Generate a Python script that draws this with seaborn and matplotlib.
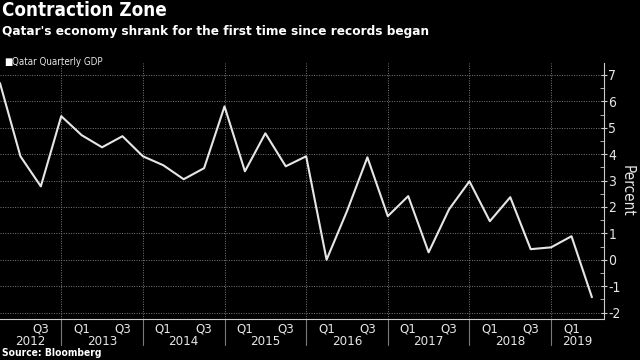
import matplotlib
matplotlib.use("Agg")
import matplotlib.pyplot as plt
import numpy as np
import pandas as pd
import seaborn as sns

# data: Qatar quarterly GDP, Q1 2012 .. Q2 2019 (percent)
quarters = [f"{y} Q{q}" for y in range(2012, 2020) for q in range(1, 5)][:30]
gdp = [6.69, 3.92, 2.78, 5.44, 4.72, 4.26, 4.68, 3.92, 3.58, 3.05,
       3.47, 5.81, 3.35, 4.79, 3.54, 3.92, 0.0, 1.84, 3.88, 1.65,
       2.41, 0.28, 1.91, 2.97, 1.46, 2.37, 0.40, 0.47, 0.89, -1.42]
years = list(range(2012, 2020))
y_ticks = list(range(-2, 8))

df = pd.DataFrame({"idx": np.arange(len(gdp)), "quarter": quarters, "gdp": gdp})

sns.set_style("dark")
plt.rcParams["font.family"] = ["DejaVu Sans"]
plt.rcParams["font.stretch"] = "condensed"

BG = "black"
FG = "#e6e6e6"
GRID = "#7a7a7a"

fig = plt.figure(figsize=(6.4, 3.6), dpi=100, facecolor=BG)
ax = fig.add_axes([0.0, 0.115, 0.944, 0.709], facecolor=BG)

sns.lineplot(data=df, x="idx", y="gdp", ax=ax, color=FG, linewidth=1.5)

ax.set_xlim(0, 29.6)
ax.set_ylim(-2.23, 7.44)

# grid
for v in y_ticks:
    ax.axhline(v, color=GRID, linestyle=(0, (1, 1.5)), linewidth=0.7, zorder=0)
sep = [i for i, q in enumerate(quarters) if q.endswith("Q4")]
for s in sep:
    ax.axvline(s, color=GRID, linestyle=(0, (1, 1.5)), linewidth=0.7, zorder=0)
    ax.plot([s, s], [0, -0.105], transform=ax.get_xaxis_transform(),
            color=GRID, linewidth=0.8, clip_on=False)

# spines
for side in ["left", "top"]:
    ax.spines[side].set_visible(False)
ax.spines["right"].set_color("#cccccc")
ax.spines["bottom"].set_color("#cccccc")
ax.spines["right"].set_linewidth(0.8)
ax.spines["bottom"].set_linewidth(0.8)

# y axis on the right
ax.yaxis.tick_right()
ax.yaxis.set_label_position("right")
ax.set_yticks(y_ticks)
ax.set_yticklabels([str(v) for v in y_ticks])
ax.set_yticks(np.arange(-1.5, 7.5, 1.0), minor=True)
ax.tick_params(axis="y", which="major", colors="#cccccc", labelcolor=FG,
               length=4, width=0.8, labelsize=10, pad=1, direction="inout")
ax.tick_params(axis="y", which="minor", colors="#cccccc", length=3, width=0.6,
               direction="in")

# x axis: Q1/Q3 labels
lab_idx = [i for i, q in enumerate(quarters) if q.endswith("Q1") or q.endswith("Q3")]
lab_idx = [i for i in lab_idx if i > 0]
ax.set_xticks(lab_idx)
ax.set_xticklabels([quarters[i][-2:] for i in lab_idx])
ax.set_xticks([i for i in range(len(quarters)) if i not in lab_idx and i not in sep],
              minor=True)
ax.tick_params(axis="x", which="major", colors="#cccccc", labelcolor=FG,
               length=3, width=0.6, labelsize=9.5, pad=0)
ax.tick_params(axis="x", which="minor", colors="#cccccc", length=3, width=0.6)
ax.set_xlabel("")
ax.set_ylabel("Percent", color=FG, fontsize=11, rotation=270, labelpad=10)

# year labels
starts = [0] + sep
ends = sep + [29.6]
for yr, a, b in zip(years, starts, ends):
    ax.text((a + b) / 2, -0.09, str(yr), transform=ax.get_xaxis_transform(),
            ha="center", va="center", color=FG, fontsize=9.5)

# titles
fig.text(0.003, 0.997, "Contraction Zone", color="white", fontsize=13.5,
         fontweight="bold", ha="left", va="top")
fig.text(0.003, 0.93, "Qatar's economy shrank for the first time since records began",
         color="white", fontsize=9.7, fontweight="bold", ha="left", va="top")
fig.text(0.006, 0.828, "\u25a0", color="white", fontsize=7, ha="left", va="center")
fig.text(0.019, 0.828, "Qatar Quarterly GDP", color=FG, fontsize=7,
         ha="left", va="center")
fig.text(0.003, 0.006, "Source: Bloomberg", color="white", fontsize=7.4,
         fontweight="bold", ha="left", va="bottom")

fig.savefig("out.png", dpi=100, facecolor=BG)
